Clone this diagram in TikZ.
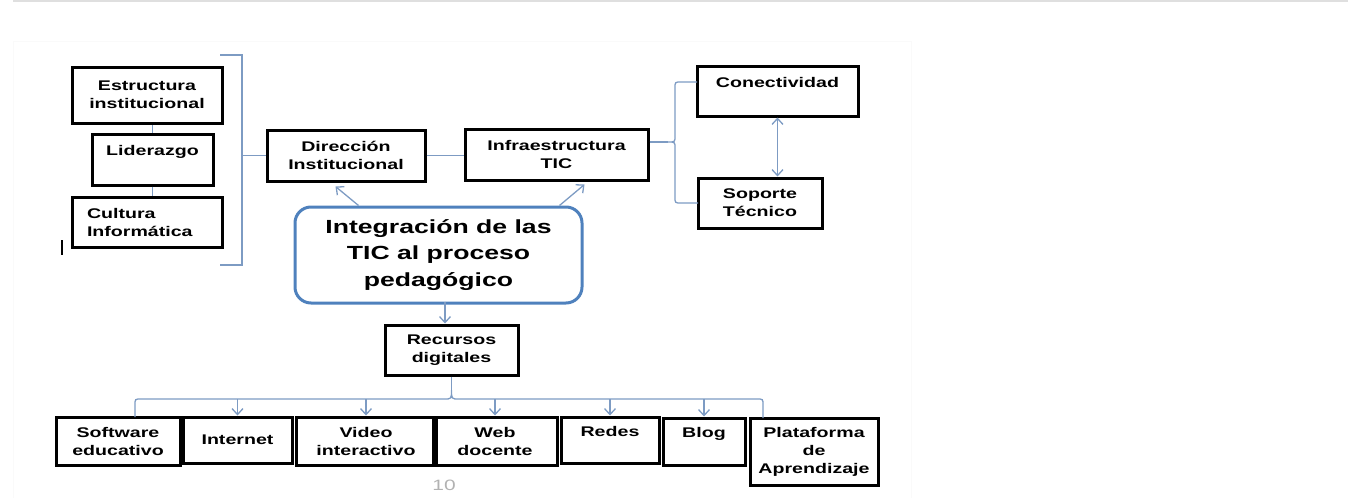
\documentclass[tikz,border=0pt]{standalone}
\usepackage{fontspec}
\setmainfont{Liberation Sans}[FakeStretch=1.4]
\usepackage{tikz}
\usetikzlibrary{
  arrows.meta,
  calc,
  positioning,
  }
\definecolor{linea}{RGB}{125,155,195}
\definecolor{borde}{RGB}{79,129,189}

\begin{document}
\begin{tikzpicture}[x=1pt, y=-1pt,
    caja/.style={draw, line width=3pt, inner sep=0pt, align=center,
      font=\bfseries\fontsize{14}{18}\selectfont},
    conector/.style={draw=linea, line width=1.3pt},
    flecha/.style={conector, -{Straight Barb[length=6pt,width=11pt]}},
    ]
    \useasboundingbox (0,0) rectangle (1348,498);
    \draw[gray!25, line width=1.5pt] (13,1) -- (1348,1);
    \draw[gray!4] (13,498) -- (13,41) -- (911,41) -- (911,498);

    % bloque izquierdo
    \node[caja, minimum width=150pt, minimum height=56pt] (est) at (147,95) {Estructura\\institucional};
    \node[caja, minimum width=121pt, minimum height=51pt] (lid) at (152.5,159.5) {Liderazgo\\~};
    \node[caja, minimum width=150pt, minimum height=50pt, text width=120pt, align=left] (cul) at (147,222) {Cultura\\Informática};
    \draw[line width=2pt] (62,240) -- (62,255);

    \node[caja, minimum width=158pt, minimum height=51pt] (dir) at (346,155.5) {Dirección\\Institucional};
    \node[caja, minimum width=183pt, minimum height=51pt] (inf) at (556.5,154.5) {Infraestructura\\TIC};
    \node[caja, minimum width=161pt, minimum height=50pt] (con) at (777.5,91) {Conectividad\\~};
    \node[caja, minimum width=124pt, minimum height=50pt] (sop) at (760,203) {Soporte\\Técnico};

    \node[draw=borde, line width=3pt, rounded corners=16pt, minimum width=287pt, minimum height=96pt,
      align=center, font=\bfseries\fontsize{19}{26.5}\selectfont] (cen) at (438.5,255)
      {Integración de las\\TIC al proceso\\pedagógico};
    \node[caja, minimum width=133pt, minimum height=50pt] (rec) at (451.5,350) {Recursos\\digitales};

    % fila inferior
    \node[caja, minimum width=124pt, minimum height=48pt] (sof) at (118,441) {Software\\educativo};
    \node[caja, minimum width=109pt, minimum height=46pt] (int) at (237.5,440) {Internet};
    \node[caja, minimum width=140pt, minimum height=48pt] (vid) at (366,441) {Video\\interactivo};
    \node[caja, minimum width=124pt, minimum height=48pt] (web) at (495,441) {Web\\docente};
    \node[caja, minimum width=98pt, minimum height=46pt] (red) at (610,440) {Redes\\~};
    \node[caja, minimum width=82pt, minimum height=47pt] (blg) at (704,441.5) {Blog\\~};
    \node[caja, minimum width=128pt, minimum height=67pt] (pla) at (814,451.5) {Plataforma\\de\\Aprendizaje};
    \node[text=gray!60, font=\fontsize{15}{17}\selectfont] (pag) at (444,485) {10};

    % conectores
    \draw[conector] (lid.north) -- (lid.north |- est.south);
    \draw[conector] (lid.south) -- (lid.south |- cul.north);
    \coordinate (cs) at (242,55);
    \coordinate (ci) at (242,265);
    \draw[conector] ($(cs)+(-22,0)$) -- (cs) -- (ci) -- ($(ci)+(-22,0)$);
    \draw[conector] (cs |- dir.west) -- (dir.west);
    \draw[conector] (dir.east) -- (dir.east -| inf.west);

    \coordinate (pico) at (668,142);
    \draw[conector] (inf.east |- pico) -- (pico);
    \draw[conector] (697,82) -- (681,82) .. controls (675,82) .. (675,88) -- (675,136)
      .. controls (675,142) .. (pico) .. controls (675,142) .. (675,148) -- (675,197)
      .. controls (675,203) .. (681,203) -- (698,203);
    \draw[conector, {Straight Barb[length=6pt,width=11pt]}-{Straight Barb[length=6pt,width=11pt]}]
      (con.south) -- (con.south |- sop.north);

    \draw[flecha] ($(cen.north west)+(65,0)$) -- ($(dir.south west)+(70,4)$);
    \draw[flecha] ($(cen.north east)+(-24,0)$) -- ($(inf.south east)+(-65,3)$);
    \draw[flecha] ($(rec.north)+(-6.5,-22)$) -- ($(rec.north)+(-6.5,0)$);

    \coordinate (pico2) at (451.5,390);
    \coordinate (barra) at (0,399);
    \draw[conector] (rec.south) -- (pico2);
    \draw[conector] (135,417) -- (135,405) .. controls (135,399) .. (141,399) -- (444,399)
      .. controls (451.5,399) .. (pico2) .. controls (451.5,399) .. (459,399) -- (757,399)
      .. controls (763,399) .. (763,405) -- (763,418);
    \foreach \n in {int,vid,web,red,blg}
      \draw[flecha] (\n.north |- barra) -- (\n.north);
\end{tikzpicture}
\end{document}
